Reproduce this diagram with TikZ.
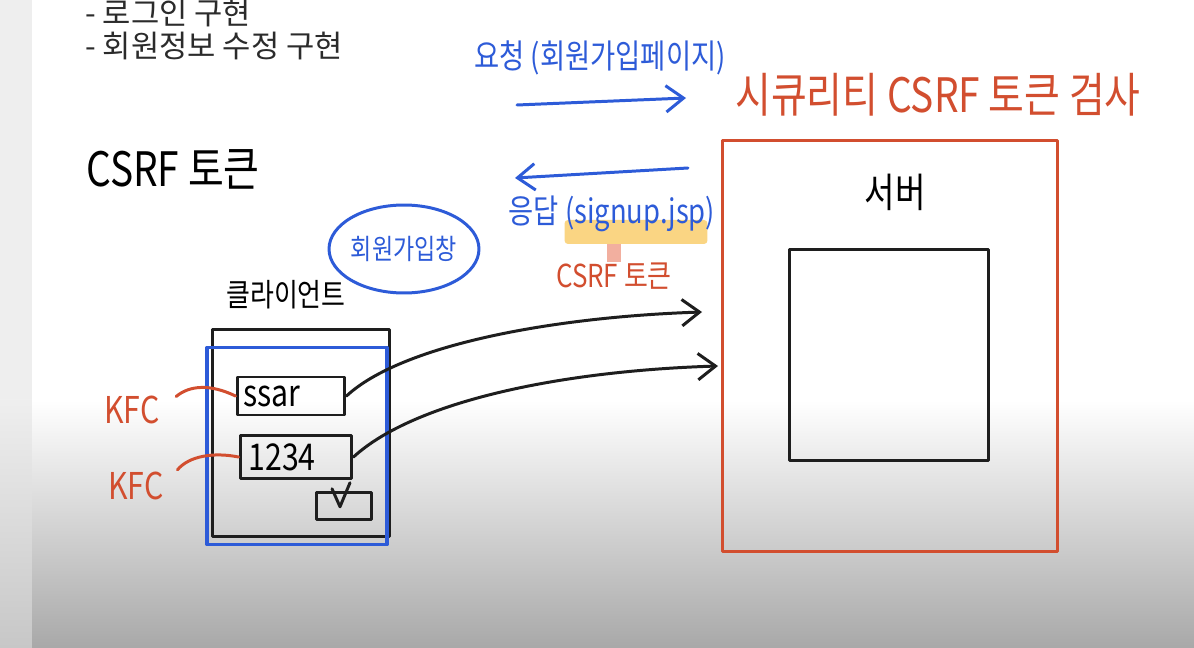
\documentclass[tikz,border=0pt]{standalone}
\usepackage{fontspec}
\usetikzlibrary{arrows.meta,positioning,shapes.geometric,calc}
\setmainfont{Noto Sans CJK KR}
\newfontfamily\handfont[FakeStretch=0.82]{Noto Sans CJK KR}
\definecolor{penblack}{HTML}{1E1E1E}
\definecolor{penblue}{HTML}{2D5BD8}
\definecolor{penred}{HTML}{D24E2F}
\definecolor{marker}{HTML}{F9C85A}
\definecolor{salmon}{HTML}{EF9C88}
\definecolor{slidetext}{HTML}{2B2B2B}
\tikzset{
  hand/.style={font=\handfont\fontsize{#1}{#1}\selectfont, inner sep=0pt},
  hand/.default=18,
  pen/.style={draw=#1, line width=1.7pt, line cap=round, line join=round},
  pen/.default=penblack,
  sheet/.style={rectangle, pen=#1},
  sheet/.default=penblack,
  fieldbox/.style={rectangle, pen, hand=21, text width=1.9cm, align=left},
  slideline/.style={font=\fontsize{17.5}{17.5}\selectfont, text=slidetext,
    anchor=west, inner sep=0pt},
  sketcharrow/.style={pen=#1, -{Straight Barb[length=10pt, width=15pt]}},
  sketcharrow/.default=penblack,
  markerbar/.style={rectangle, fill=marker, fill opacity=.75,
    rounded corners=2pt, minimum width=2.86cm, minimum height=0.48cm},
}
\begin{document}
\begin{tikzpicture}[x=0.02cm, y=-0.02cm]
    \useasboundingbox (0,0) rectangle (1194,648);
    \clip (0,0) rectangle (1194,648);
    \fill[white] (0,0) rectangle (1194,648);
    \fill[gray!13] (0,0) rectangle (32,400);
    \shade[top color=gray!13, bottom color=gray!44] (0,400) rectangle (32,648);
    \shade[top color=white, bottom color=gray!68] (32,400) rectangle (1194,648);

    \node[slideline] (todo1) at (85,13) {- 로그인 구현};
    \node[slideline] (todo2) at (85,46) {- 회원정보 수정 구현};
    \node[hand=27] (title) at (173,169) {CSRF 토큰};

    \node[hand=19, text=penblue] (reqlabel) at (600,58) {요청 (회원가입페이지)};
    \coordinate (reqstart) at (517,105);
    \coordinate (reqend) at (686,98);
    \draw[sketcharrow=penblue] (reqstart) -- (reqend);
    \node[hand=27, text=penred] (checktitle) at (938,95) {시큐리티 CSRF 토큰 검사};

    \coordinate (respstart) at (688,168);
    \coordinate (respend) at (515,178);
    \draw[sketcharrow=penblue] (respstart) -- (respend);
    \node[markerbar] (jspmark) at (636,232) {};
    \node[hand=19, text=penblue] (resplabel) at (612,214) {응답 (signup.jsp)};
    \node[hand=18, text=penred] (tokenlabel) at (614,276) {CSRF 토큰};
    \draw[line width=0.28cm, salmon, opacity=.8] (jspmark.south -| tokenlabel.north) -- (tokenlabel.north);

    \node[ellipse, pen=penblue, minimum width=2.44cm, minimum height=1.76cm,
          hand=16, text=penblue] (signupbubble) at (404,249) {회원가입창};
    \node[hand=18] (clientlabel) at (286,295) {클라이언트};

    \node[sheet, minimum width=3.56cm, minimum height=4.14cm] (clientsheet) at (301,433) {};
    \node[sheet=penblue, line width=2.2pt, minimum width=3.6cm, minimum height=3.94cm] (client) at (297,446) {};
    \node[fieldbox, minimum width=2.16cm, minimum height=0.76cm] (userfield) at (291,396) {ssar};
    \node[fieldbox, minimum width=2.24cm, minimum height=0.86cm] (passfield) at (296,457) {1234};
    \node[sheet, minimum width=1.1cm, minimum height=0.55cm] (submitbox) at (344,506) {};
    \draw[pen] ([shift={(-12,-2)}]submitbox.north) -- ([shift={(-4,16)}]submitbox.north)
        -- ([shift={(6,-8)}]submitbox.north);

    \node[hand=21, text=penred] (kfc1) at (132,410) {KFC};
    \node[hand=21, text=penred] (kfc2) at (136,486) {KFC};
    \draw[pen=penred, shorten <=12pt] (kfc1.east) .. controls +(30,-25) and +(-25,-12) .. (userfield.west);
    \draw[pen=penred, shorten <=12pt] (kfc2.east) .. controls +(25,-30) and +(-25,-5) .. (passfield.west);

    \node[sheet=penred, minimum width=6.72cm, minimum height=8.24cm] (server) at (890,346) {};
    \node[hand=23, below=0.7cm of server.north, xshift=0.1cm] (serverlabel) {서버};
    \node[sheet, minimum width=4cm, minimum height=4.24cm] (serverpage) at (889,355) {};

    \coordinate (srvin1) at (702,312);
    \coordinate (srvin2) at (718,366);
    \draw[sketcharrow] (userfield.east) .. controls +(55,-51) and +(-150,5) .. (srvin1);
    \draw[sketcharrow] (passfield.east) .. controls +(60,-55) and +(-160,5) .. (srvin2);
\end{tikzpicture}
\end{document}
